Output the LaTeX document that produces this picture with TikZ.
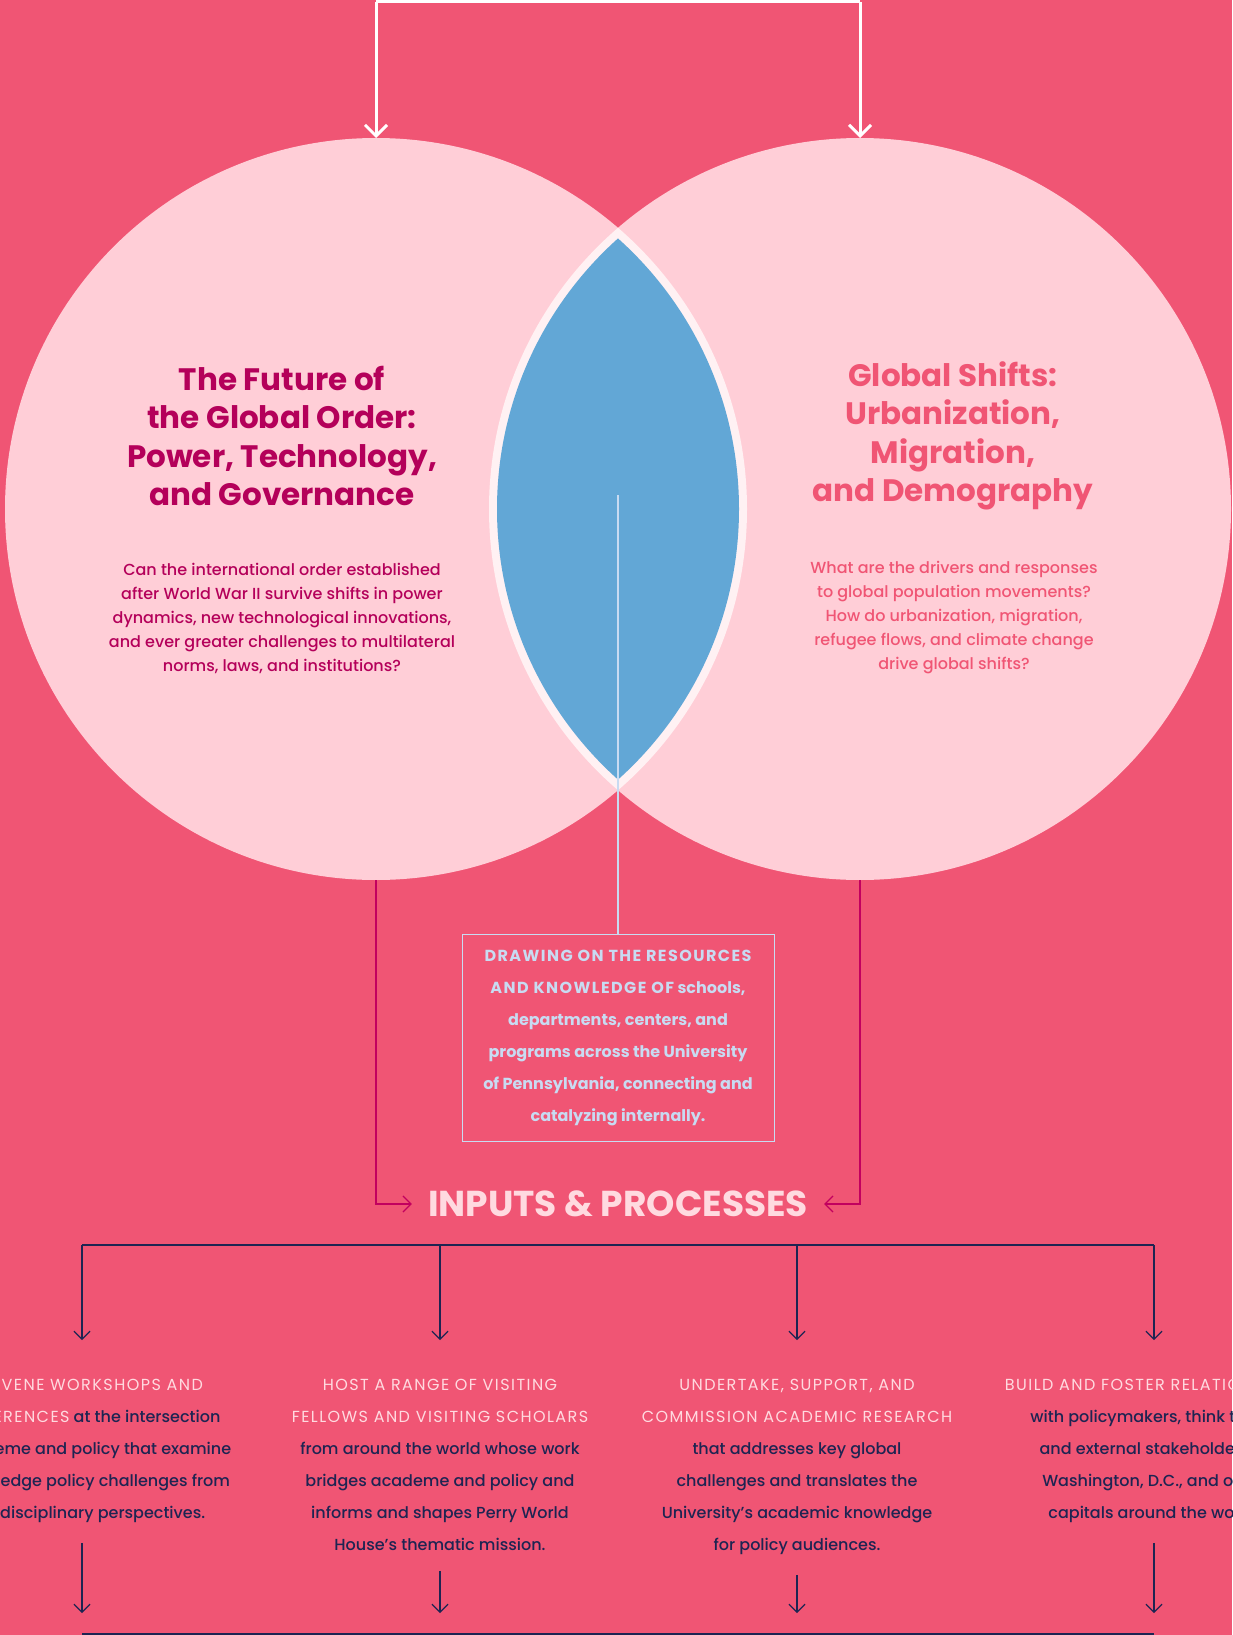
\documentclass[tikz,border=0pt]{standalone}
\usepackage{fontspec}
\setmainfont{Poppins}
\newfontfamily\medfont{Poppins Medium}
\newfontfamily\capsfont{Poppins}[LetterSpace=9]
\usetikzlibrary{arrows.meta,positioning}
\definecolor{bgred}{HTML}{F05574}
\definecolor{circpink}{HTML}{FFCED7}
\definecolor{plum}{HTML}{B4005A}
\definecolor{lensblue}{HTML}{62A7D6}
\definecolor{lensrim}{HTML}{FFF1F3}
\definecolor{lavender}{HTML}{C8DBF2}
\definecolor{palepink}{HTML}{FFDAE0}
\definecolor{navy}{HTML}{1E2452}
\definecolor{wire}{HTML}{C2005F}
\def\upc#1{{\capsfont\color{palepink}#1}}
\def\boxcaps#1{{\capsfont\bfseries#1}}
\tikzset{
  title/.style={align=center, font=\fontsize{31}{38.5}\selectfont\bfseries},
  question/.style={align=center, font=\fontsize{16}{24}\selectfont\medfont},
  coltext/.style={anchor=north, align=center, text=navy, inner sep=0pt,
    font=\fontsize{16}{32}\selectfont\medfont},
  smalltip/.style={-{Straight Barb[length=8pt,width=16pt]}},
}
\begin{document}
\begin{tikzpicture}[x=1pt, y=-1pt]
		%%%%% START %%%%%
		\useasboundingbox (0,0) rectangle (1232,1635);
		\clip (0,0) rectangle (1232,1635);
		\fill[bgred] (0,0) rectangle (1232,1635);
		
		% the two circles
		\node[circle, fill=circpink, minimum size=742pt, inner sep=0pt, outer sep=0pt] (order) at (376,509) {};
		\node[circle, fill=circpink, minimum size=742pt, inner sep=0pt, outer sep=0pt] (shifts) at (860,509) {};
		
		% lens in the middle
		\begin{scope}
			\clip (order.center) circle (371);
			\fill[lensrim] (shifts.center) circle (371);
		\end{scope}
		\begin{scope}
			\clip (order.center) circle (363);
			\fill[lensblue] (shifts.center) circle (363);
		\end{scope}
		
		% top bracket
		\coordinate (topleft) at (376,2);
		\coordinate (topright) at (860,2);
		\draw[white, line width=3pt, -{Straight Barb[length=11pt,width=22pt]}] (topleft) -- (order.north);
		\draw[white, line width=3pt, -{Straight Barb[length=11pt,width=22pt]}] (topright) -- (shifts.north);
		\draw[white, line width=3pt] (topleft) -- (topright);
		
		\node[title, text=plum] (ordertitle) at (282,436) {The Future of\\the Global Order:\\Power, Technology,\\and Governance};
		\node[question, text=plum] (orderq) at (282,618) {Can the international order established\\after World War II survive shifts in power\\dynamics, new technological innovations,\\and ever greater challenges to multilateral\\norms, laws, and institutions?};
		
		\node[title, text=bgred] (shiftstitle) at (953,436) {Global Shifts:\\Urbanization,\\Migration,\\and Demography};
		\node[question, text=bgred] (shiftsq) at (954,618) {What are the drivers and responses\\to global population movements?\\How do urbanization, migration,\\refugee flows, and climate change\\drive global shifts?};
		
		% resources box
		\coordinate (lenshub) at (618,495);
		\node[draw=lavender, line width=1pt, text=lavender, align=center, minimum width=312pt, minimum height=207pt,
			font=\fontsize{16}{32}\selectfont\bfseries] (resources) at (618,1038)
			{\boxcaps{DRAWING ON THE RESOURCES}\\\boxcaps{AND KNOWLEDGE OF} schools,\\departments, centers, and\\programs across the University\\of Pennsylvania, connecting and\\catalyzing internally.};
		\draw[lavender, line width=1.2pt] (lenshub) -- (resources.north);
		
		\node[text=palepink, inner xsep=16pt, font=\fontsize{36}{40}\selectfont\bfseries] (inputs) at (618,1204) {INPUTS \& PROCESSES};
		\draw[wire, line width=1.2pt, smalltip] (order.south) |- (inputs.west);
		\draw[wire, line width=1.2pt, smalltip] (shifts.south) |- (inputs.east);
		
		% four columns
		\coordinate (bus1) at (82,1245);
		\coordinate (bus4) at (1154,1245);
		\draw[navy, line width=1.2pt] (bus1) -- (bus4);
		
		\node[coltext] (col1) at (82,1379) {\upc{CONVENE WORKSHOPS AND}\\\upc{CONFERENCES} at the intersection\\of academe and policy that examine\\cutting-edge policy challenges from\\multidisciplinary perspectives.};
		\node[coltext] (col2) at (440,1379) {\upc{HOST A RANGE OF VISITING}\\\upc{FELLOWS AND VISITING SCHOLARS}\\from around the world whose work\\bridges academe and policy and\\informs and shapes Perry World\\House’s thematic mission.};
		\node[coltext] (col3) at (797,1379) {\upc{UNDERTAKE, SUPPORT, AND}\\\upc{COMMISSION ACADEMIC RESEARCH}\\that addresses key global\\challenges and translates the\\University’s academic knowledge\\for policy audiences.};
		\node[coltext] (col4) at (1154,1379) {\upc{BUILD AND FOSTER RELATIONSHIPS}\\with policymakers, think tanks,\\and external stakeholders in\\Washington, D.C., and other\\capitals around the world.};
		
		\foreach \c/\x in {1/82, 2/440, 3/797, 4/1154} {
			\coordinate (in\c) at (\x,1340);
			\draw[navy, line width=1.2pt, smalltip] (\x,1245) -- (in\c);
			\coordinate (out\c) at (\x,1613);
		}
		\draw[navy, line width=1.2pt, smalltip] ([yshift=-20pt]col1.south) -- (out1);
		\draw[navy, line width=1.2pt, smalltip] ([yshift=-20pt]col2.south) -- (out2);
		\draw[navy, line width=1.2pt, smalltip] ([yshift=-20pt]col3.south) -- (out3);
		\draw[navy, line width=1.2pt, smalltip] ([yshift=-20pt]col4.south) -- (out4);
		
		\coordinate (floor1) at (82,1634);
		\coordinate (floor4) at (1154,1634);
		\draw[navy, line width=2.5pt] (floor1) -- (floor4);
		
		%%%%% END %%%%%
	\end{tikzpicture}
\end{document}
